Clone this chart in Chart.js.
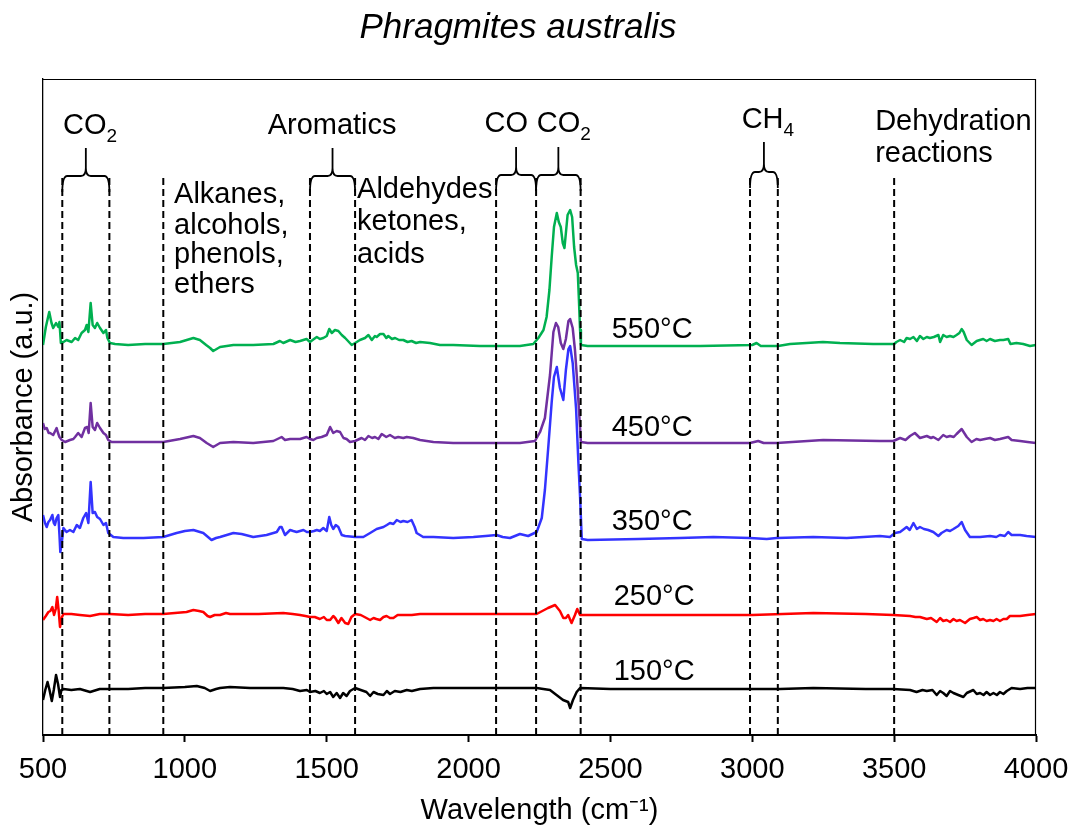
<!DOCTYPE html>
<html><head><meta charset="utf-8">
<script src="https://cdn.jsdelivr.net/npm/chart.js@4.4.1/dist/chart.umd.min.js"></script>
<style>html,body{margin:0;padding:0;background:#fff}#wrap{width:1073px;height:828px}</style>
</head><body><div id="wrap"><canvas id="c" width="1073" height="828"></canvas></div>
<script>
const chartTitle = 'Phragmites australis';
const xTitle = 'Wavelength (cm\u207B\u00B9)';
const yTitle = 'Absorbance (a.u.)';
const xTickValues = [500,1000,1500,2000,2500,3000,3500,4000];
const seriesLabels = ['150°C','250°C','350°C','450°C','550°C'];
const regionLines = [568,734,924,1441,1600,2097,2238,2395,2992,3090,3500,4000];

const wn150 = [500,508,516,523,531,538,546,553,560,565,572,600,630,666,700,740,800,860,924,1000,1042,1070,1089,1110,1124,1159,1230,1290,1347,1380,1406,1430,1441,1460,1476,1490,1500,1512,1523,1535,1547,1558,1570,1582,1594,1600,1620,1640,1653,1665,1680,1700,1712,1723,1740,1760,1782,1800,1829,1876,1950,2017,2100,2240,2287,2310,2333,2351,2358,2368,2381,2393,2500,2650,2816,3000,3098,3215,3400,3497,3556,3579,3600,3615,3635,3650,3662,3673,3685,3697,3709,3726,3744,3756,3779,3791,3803,3815,3826,3838,3850,3862,3873,3885,3897,3914,3944,3970,4000];
const ab150 = [0.35,0.45,0.53,0.45,0.34,0.45,0.60,0.51,0.38,0.45,0.46,0.45,0.46,0.43,0.46,0.46,0.46,0.47,0.47,0.48,0.49,0.47,0.44,0.46,0.47,0.48,0.47,0.47,0.47,0.46,0.44,0.45,0.43,0.44,0.42,0.44,0.41,0.43,0.38,0.42,0.37,0.42,0.39,0.44,0.46,0.47,0.45,0.43,0.39,0.43,0.41,0.40,0.44,0.41,0.44,0.43,0.45,0.44,0.46,0.47,0.47,0.47,0.47,0.47,0.45,0.40,0.35,0.33,0.27,0.35,0.43,0.47,0.46,0.46,0.46,0.46,0.46,0.47,0.46,0.46,0.45,0.43,0.45,0.44,0.45,0.40,0.44,0.42,0.39,0.44,0.42,0.40,0.38,0.42,0.45,0.41,0.42,0.40,0.43,0.40,0.42,0.40,0.43,0.41,0.44,0.47,0.46,0.47,0.47];

const wn250 = [500,510,519,526,533,539,545,550,555,560,563,567,572,600,630,666,700,736,800,860,924,1006,1030,1050,1065,1080,1089,1105,1124,1145,1159,1200,1260,1347,1380,1406,1425,1441,1458,1476,1490,1500,1512,1523,1530,1541,1552,1565,1576,1587,1600,1620,1640,1653,1665,1675,1688,1700,1711,1723,1735,1750,1782,1800,1829,1900,2017,2150,2240,2280,2305,2322,2334,2343,2351,2363,2375,2383,2393,2500,2700,2816,3000,3215,3400,3497,3556,3575,3591,3615,3630,3650,3662,3673,3685,3697,3709,3720,3732,3750,3767,3780,3791,3803,3814,3826,3838,3850,3861,3873,3885,3897,3908,3944,3970,4000];
const ab250 = [1.15,1.19,1.23,1.24,1.28,1.20,1.26,1.38,1.25,1.08,1.08,1.18,1.21,1.21,1.20,1.19,1.21,1.21,1.20,1.21,1.21,1.23,1.25,1.24,1.23,1.19,1.18,1.20,1.20,1.22,1.21,1.21,1.21,1.22,1.21,1.20,1.19,1.18,1.18,1.16,1.18,1.15,1.15,1.19,1.17,1.12,1.17,1.12,1.11,1.18,1.21,1.20,1.17,1.15,1.17,1.16,1.15,1.18,1.19,1.17,1.17,1.20,1.20,1.20,1.21,1.21,1.21,1.21,1.21,1.27,1.30,1.24,1.17,1.17,1.20,1.12,1.20,1.26,1.20,1.20,1.20,1.20,1.20,1.22,1.21,1.20,1.19,1.18,1.18,1.16,1.17,1.13,1.17,1.14,1.15,1.13,1.16,1.14,1.15,1.12,1.16,1.17,1.18,1.15,1.16,1.14,1.15,1.14,1.16,1.14,1.16,1.16,1.19,1.19,1.20,1.21];

const wn350 = [500,507,513,519,525,533,538,542,548,554,558,561,566,572,583,595,607,619,630,642,652,660,668,675,683,691,701,713,722,730,748,783,854,924,971,1000,1030,1065,1094,1110,1124,1171,1200,1241,1288,1324,1335,1341,1353,1371,1382,1394,1418,1430,1441,1455,1465,1476,1488,1500,1509,1516,1523,1532,1541,1553,1565,1600,1629,1653,1676,1700,1712,1723,1735,1747,1760,1770,1785,1799,1810,1817,1840,1876,1946,2017,2060,2099,2120,2146,2181,2210,2240,2258,2269,2281,2293,2301,2311,2322,2334,2343,2352,2358,2367,2379,2387,2393,2399,2420,2600,2745,2863,2992,3051,3086,3215,3333,3450,3485,3503,3521,3535,3544,3555,3568,3580,3591,3605,3620,3638,3656,3667,3685,3697,3709,3726,3738,3750,3767,3785,3803,3838,3860,3873,3890,3902,3914,3944,3967,4000];
const ab350 = [2.20,2.12,2.08,2.13,2.15,2.20,2.12,2.10,2.17,2.20,2.00,1.83,1.92,2.07,2.03,2.05,2.03,2.10,2.07,2.17,2.22,2.12,2.53,2.22,2.23,2.18,2.16,2.10,2.12,2.02,1.98,1.97,1.97,1.98,2.02,2.04,2.05,2.02,1.95,1.97,1.98,2.02,2.01,1.98,2.00,2.03,2.08,2.08,2.00,2.05,2.04,2.03,2.05,2.03,2.03,2.04,2.05,2.04,2.07,2.04,2.18,2.10,2.06,2.10,2.08,2.00,1.99,1.98,1.98,2.02,2.06,2.08,2.10,2.12,2.11,2.15,2.13,2.14,2.13,2.15,2.08,2.02,1.98,1.98,1.97,1.98,1.99,2.00,1.98,1.97,2.01,1.99,2.03,2.17,2.45,2.88,3.33,3.58,3.68,3.47,3.35,3.65,3.86,3.89,3.72,3.26,2.73,2.38,1.96,1.95,1.96,1.97,1.98,1.97,1.96,1.97,1.98,1.97,1.99,1.98,2.02,2.03,2.06,2.08,2.05,2.12,2.06,2.08,2.06,2.05,2.03,1.99,2.02,2.05,2.04,2.06,2.09,2.13,2.05,1.98,1.98,1.98,1.99,1.98,2.00,1.99,2.03,2.00,2.00,1.99,1.98];

const wn450 = [500,506,513,520,525,536,548,553,558,566,578,595,607,613,624,636,648,656,661,668,675,683,691,701,713,722,730,742,800,860,924,983,1030,1053,1077,1100,1124,1171,1241,1312,1341,1353,1371,1406,1429,1441,1453,1465,1482,1500,1512,1523,1535,1547,1559,1570,1582,1600,1623,1635,1647,1660,1670,1682,1694,1710,1723,1740,1752,1770,1782,1805,1829,1876,1946,2040,2181,2234,2252,2269,2287,2299,2308,2316,2325,2334,2343,2352,2358,2367,2375,2383,2390,2396,2420,2600,2745,2992,3021,3040,3086,3250,3450,3497,3521,3540,3556,3573,3591,3603,3615,3630,3638,3656,3673,3685,3697,3710,3720,3738,3756,3773,3790,3803,3820,3838,3855,3873,3902,3914,3944,3970,4000];
const ab450 = [3.12,3.06,3.07,3.02,3.02,3.00,3.07,3.02,2.98,2.95,2.93,2.95,2.96,2.98,3.02,2.98,3.07,3.08,3.02,3.32,3.08,3.05,3.12,3.07,3.02,3.00,2.95,2.93,2.93,2.93,2.93,2.96,2.99,2.97,2.92,2.88,2.92,2.93,2.92,2.94,2.98,2.95,2.96,2.96,2.98,2.96,2.95,2.97,2.98,3.00,3.08,3.02,3.04,3.03,2.97,2.96,2.93,2.94,2.97,2.95,2.99,2.97,2.98,2.96,3.01,2.98,3.00,2.97,2.98,2.97,2.98,2.97,2.95,2.93,2.92,2.92,2.92,2.94,3.03,3.17,3.60,4.03,4.12,4.08,3.92,3.86,3.96,4.14,4.16,4.07,3.85,3.53,3.21,2.93,2.92,2.92,2.92,2.92,2.94,2.92,2.92,2.95,2.94,2.94,2.97,2.95,2.99,3.02,2.97,2.98,2.99,2.97,2.98,2.95,3.00,2.98,2.99,2.98,3.01,3.06,2.98,2.93,2.96,2.95,2.96,2.97,2.95,2.96,2.98,2.95,2.94,2.93,2.92];

const wn550 = [500,510,522,530,536,546,554,558,563,572,583,601,613,624,636,648,654,660,668,675,683,691,701,713,722,727,736,754,800,860,924,983,1030,1053,1075,1089,1100,1124,1171,1241,1312,1335,1347,1371,1390,1406,1429,1441,1455,1465,1476,1488,1500,1509,1518,1529,1541,1553,1565,1575,1588,1600,1617,1635,1647,1659,1670,1676,1688,1700,1710,1717,1730,1741,1755,1770,1785,1799,1815,1829,1864,1899,1946,2040,2181,2228,2246,2264,2275,2285,2293,2301,2311,2318,2325,2332,2338,2343,2349,2358,2365,2372,2379,2385,2389,2393,2396,2420,2600,2816,3000,3015,3030,3091,3133,3249,3309,3426,3500,3508,3521,3535,3544,3556,3568,3580,3591,3603,3615,3626,3640,3656,3662,3673,3685,3697,3709,3720,3730,3738,3745,3756,3773,3791,3802,3814,3826,3838,3855,3873,3885,3902,3910,3931,3955,3979,4000];
const ab550 = [3.90,4.08,4.23,4.12,4.07,4.12,4.08,4.13,3.92,3.93,3.95,3.93,3.97,3.95,4.02,4.05,4.10,4.03,4.32,4.10,4.07,4.12,4.07,4.02,4.05,3.97,3.92,3.91,3.90,3.91,3.91,3.93,3.97,3.95,3.90,3.87,3.84,3.88,3.90,3.90,3.91,3.94,3.92,3.95,3.93,3.94,3.96,3.93,3.96,3.98,3.96,3.97,3.99,4.06,4.02,4.05,4.04,4.00,3.97,3.94,3.90,3.92,3.95,3.97,4.00,3.95,3.99,3.98,4.01,4.01,3.97,3.99,3.96,3.97,3.95,3.95,3.93,3.94,3.92,3.93,3.92,3.90,3.90,3.89,3.89,3.91,3.97,4.05,4.18,4.45,4.78,5.08,5.22,5.13,5.08,4.92,4.87,5.02,5.20,5.25,5.18,4.88,4.70,4.62,4.35,4.05,3.90,3.89,3.89,3.89,3.90,3.92,3.89,3.89,3.91,3.93,3.92,3.91,3.91,3.93,3.95,3.93,3.97,3.96,3.98,3.94,3.99,3.96,3.98,3.97,3.98,4.00,3.93,4.00,3.98,3.99,3.98,4.00,4.02,4.06,4.03,3.95,3.90,3.94,3.95,3.96,3.94,3.96,3.94,3.95,3.95,3.96,3.91,3.92,3.91,3.89,3.90];

const FONT = '"Liberation Sans", Arial, Helvetica, sans-serif';
const toPts = (xs, ys) => xs.slice(0, Math.min(xs.length, ys.length)).map((x, i) => ({x: x, y: ys[i]}));

const seriesDefs = [
  {label: seriesLabels[4], wn: wn550, ab: ab550, color: '#00B050'},
  {label: seriesLabels[3], wn: wn450, ab: ab450, color: '#7030A0'},
  {label: seriesLabels[2], wn: wn350, ab: ab350, color: '#3333FF'},
  {label: seriesLabels[1], wn: wn250, ab: ab250, color: '#FF0000'},
  {label: seriesLabels[0], wn: wn150, ab: ab150, color: '#000000'}
];

const lineTop = 5.60;
const dashSets = regionLines.map(x => ({
  label: 'region ' + x,
  data: [{x: x, y: 0}, {x: x, y: lineTop}],
  borderColor: '#000', borderWidth: 2, borderDash: [7, 4],
  pointRadius: 0, fill: false, order: 0
}));
const specSets = seriesDefs.map((s, i) => ({
  label: s.label, data: toPts(s.wn, s.ab),
  borderColor: s.color, borderWidth: 2.5, pointRadius: 0, fill: false,
  tension: 0, borderJoinStyle: 'round', order: 1 + i
}));

// annotation layout (positions in data units)
const braces = [
  {x0: 568, x1: 734, yh: 5.59, tip: 5.87},
  {x0: 1441, x1: 1600, yh: 5.59, tip: 5.87},
  {x0: 2097, x1: 2238, yh: 5.60, tip: 5.88},
  {x0: 2238, x1: 2395, yh: 5.60, tip: 5.88},
  {x0: 2992, x1: 3090, yh: 5.63, tip: 5.93}
];
const notes = [
  {t: 'CO', sub: '2', x: 666, y: 6.01, align: 'center'},
  {t: 'Aromatics', x: 1519, y: 6.01, align: 'center'},
  {t: 'CO', x: 2133, y: 6.03, align: 'center'},
  {t: 'CO', sub: '2', x: 2336, y: 6.03, align: 'center'},
  {t: 'CH', sub: '4', x: 3055, y: 6.07, align: 'center'},
  {t: 'Dehydration', x: 3433, y: 6.05, align: 'left'},
  {t: 'reactions', x: 3433, y: 5.73, align: 'left'},
  {t: 'Alkanes,', x: 962, y: 5.32, align: 'left'},
  {t: 'alcohols,', x: 962, y: 5.01, align: 'left'},
  {t: 'phenols,', x: 962, y: 4.72, align: 'left'},
  {t: 'ethers', x: 962, y: 4.42, align: 'left'},
  {t: 'Aldehydes', x: 1607, y: 5.37, align: 'left'},
  {t: 'ketones,', x: 1607, y: 5.05, align: 'left'},
  {t: 'acids', x: 1607, y: 4.72, align: 'left'},
  {t: seriesLabels[4], x: 2647, y: 3.97, align: 'center'},
  {t: seriesLabels[3], x: 2647, y: 2.99, align: 'center'},
  {t: seriesLabels[2], x: 2647, y: 2.05, align: 'center'},
  {t: seriesLabels[1], x: 2654, y: 1.30, align: 'center'},
  {t: seriesLabels[0], x: 2654, y: 0.55, align: 'center'}
];

const annoPlugin = {
  id: 'anno',
  afterDatasetsDraw(chart) {
    const {ctx, chartArea: ca, scales: {x, y}} = chart;
    ctx.save();
    ctx.strokeStyle = '#000';
    ctx.lineWidth = 1.2;
    ctx.beginPath();
    ctx.moveTo(ca.left, ca.top + 0.5);
    ctx.lineTo(ca.right - 0.5, ca.top + 0.5);
    ctx.lineTo(ca.right - 0.5, ca.bottom);
    ctx.stroke();

    ctx.lineWidth = 1.8;
    braces.forEach(b => {
      const xl = x.getPixelForValue(b.x0), xr = x.getPixelForValue(b.x1);
      const yh = y.getPixelForValue(b.yh), yt = y.getPixelForValue(b.tip);
      const xc = (xl + xr) / 2, r = 5, ye = yh + 16;
      ctx.beginPath();
      ctx.moveTo(xl, ye);
      ctx.quadraticCurveTo(xl, yh, xl + r, yh);
      ctx.lineTo(xc - r, yh);
      ctx.quadraticCurveTo(xc, yh, xc, yh - 8);
      ctx.lineTo(xc, yt);
      ctx.moveTo(xc, yh - 8);
      ctx.quadraticCurveTo(xc, yh, xc + r, yh);
      ctx.lineTo(xr - r, yh);
      ctx.quadraticCurveTo(xr, yh, xr, ye);
      ctx.stroke();
    });

    ctx.fillStyle = '#000';
    ctx.textBaseline = 'alphabetic';
    const mainFont = '29px ' + FONT, subFont = '19px ' + FONT;
    notes.forEach(n => {
      const px = x.getPixelForValue(n.x), py = y.getPixelForValue(n.y);
      ctx.font = mainFont;
      const w1 = ctx.measureText(n.t).width;
      ctx.font = subFont;
      const w2 = n.sub ? ctx.measureText(n.sub).width : 0;
      const left = n.align === 'center' ? px - (w1 + w2) / 2 : px;
      ctx.textAlign = 'left';
      ctx.font = mainFont;
      ctx.fillText(n.t, left, py);
      if (n.sub) { ctx.font = subFont; ctx.fillText(n.sub, left + w1, py + 8); }
    });
    ctx.restore();
  }
};

new Chart(document.getElementById('c'), {
  type: 'line',
  data: {datasets: dashSets.concat(specSets)},
  options: {
    responsive: false, animation: false, devicePixelRatio: 1,
    layout: {padding: {left: 0, right: 37, top: 0, bottom: 0}},
    plugins: {
      legend: {display: false},
      tooltip: {enabled: false},
      title: {display: true, text: chartTitle, color: '#000',
        font: {family: FONT, size: 35, style: 'italic', weight: 'normal', lineHeight: 1.2},
        padding: {top: 7, bottom: 30}}
    },
    scales: {
      x: {
        type: 'linear', min: 500, max: 4000,
        afterBuildTicks: s => { s.ticks = xTickValues.map(v => ({value: v})); },
        ticks: {font: {family: FONT, size: 29}, color: '#000', padding: 11, maxRotation: 0, autoSkip: false,
          callback: v => String(v)},
        grid: {display: true, drawOnChartArea: false, drawTicks: true, tickLength: 7, tickWidth: 2, tickColor: '#000'},
        border: {display: true, color: '#000', width: 2},
        title: {display: true, text: xTitle, color: '#000', font: {family: FONT, size: 29, lineHeight: 1.2}, padding: {top: 0, bottom: 0}},
        afterFit: s => { s.height = 93; s.paddingLeft = 0; s.paddingRight = 0; }
      },
      y: {
        type: 'linear', min: 0, max: 6.56,
        ticks: {display: false},
        grid: {display: false},
        border: {display: true, color: '#000', width: 1.3},
        title: {display: true, text: yTitle, color: '#000', font: {family: FONT, size: 29, lineHeight: 1.2}, padding: {top: 7, bottom: 0}},
        afterFit: s => { s.width = 43; }
      }
    }
  },
  plugins: [annoPlugin]
});
</script>
</body></html>
